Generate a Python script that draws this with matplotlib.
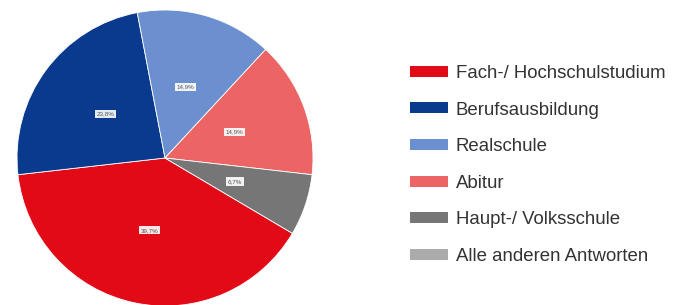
import numpy as np
import matplotlib.pyplot as plt
from matplotlib.patches import Patch

plt.rcParams['font.family'] = ['Liberation Sans', 'DejaVu Sans']

# shares in percent
categories = ['Fach-/ Hochschulstudium', 'Berufsausbildung', 'Realschule',
              'Abitur', 'Haupt-/ Volksschule', 'Alle anderen Antworten']
shares = [39.7, 23.8, 14.9, 14.9, 6.7, 0.0]
colors = ['#E30A17', '#0A3A8E', '#6C8FCF', '#EC6464', '#767676', '#ABABAB']

fig = plt.figure(figsize=(6.78, 3.05), dpi=100)
r_px = 148
cx, cy = 165, 305 - 158
ax = fig.add_axes([(cx - r_px) / 678, (cy - r_px) / 305, 2 * r_px / 678, 2 * r_px / 305])

drawn = [(s, c) for s, c in zip(shares, colors) if s > 0]
wedges, _ = ax.pie([s for s, _ in drawn], colors=[c for _, c in drawn],
                   startangle=-30.6, counterclock=False, radius=1,
                   wedgeprops=dict(linewidth=0.6, edgecolor='white'))

# small value boxes inside the slices
for w, (s, _) in zip(wedges, drawn):
    ang = np.deg2rad((w.theta1 + w.theta2) / 2)
    ax.text(0.5 * np.cos(ang), 0.5 * np.sin(ang), f'{s:.1f}%'.replace('.', ','),
            ha='center', va='center', fontsize=4.5, color='#555555',
            bbox=dict(boxstyle='square,pad=0.25', fc='white', ec='none', alpha=0.9))

ax.set_xlim(-1, 1)
ax.set_ylim(-1, 1)
ax.set_aspect('equal')
ax.axis('off')

handles = [Patch(facecolor=c, edgecolor='none') for c in colors]
fig.legend(handles, categories, loc='upper left', bbox_to_anchor=(410 / 678, 1 - 65 / 305),
           frameon=False, fontsize=13.4, handlelength=2.05, handleheight=0.53,
           handletextpad=0.4, labelspacing=1.05, borderaxespad=0, borderpad=0,
           labelcolor='#333333')

fig.savefig('out.png', dpi=100)
